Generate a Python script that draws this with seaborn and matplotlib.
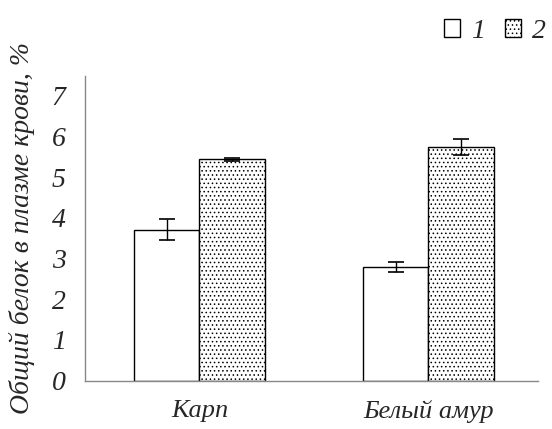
import matplotlib
matplotlib.use("Agg")
import matplotlib.pyplot as plt
import pandas as pd
import seaborn as sns
from matplotlib.patches import Patch

# values
fish = ["Карп", "Белый амур"]
series = ["1", "2"]
values_1 = [3.71, 2.80]
values_2 = [5.44, 5.75]
err_1 = [0.26, 0.12]
err_2 = [0.03, 0.20]
y_ticks = [0, 1, 2, 3, 4, 5, 6, 7]

df = pd.DataFrame({
    "fish": fish * 2,
    "series": [series[0]] * 2 + [series[1]] * 2,
    "value": values_1 + values_2,
    "err": err_1 + err_2,
})

sns.set_style("white")
plt.rcParams["font.family"] = ["Liberation Serif", "DejaVu Serif"]
plt.rcParams["hatch.color"] = "#555555"
plt.rcParams["hatch.linewidth"] = 0.6

fig = plt.figure(figsize=(5.52, 4.29), dpi=100)
ax = fig.add_axes([0.154, 0.113, 0.821, 0.711])

sns.barplot(data=df, x="fish", y="value", hue="series", order=fish,
            hue_order=series, palette=["white", "white"], errorbar=None,
            width=0.57, edgecolor="black", linewidth=1.0, ax=ax, legend=False)

# hatch the second series, add error bars on each bar
bars = [p for p in ax.patches if p.get_height() > 0]
for i, bar in enumerate(bars):
    s = i // len(fish)
    k = i % len(fish)
    if s == 1:
        bar.set_hatch("....")
    cx = bar.get_x() + bar.get_width() / 2
    e = (err_1 if s == 0 else err_2)[k]
    ax.errorbar(cx, bar.get_height(), yerr=e, color="black", capsize=6,
                elinewidth=1.0, capthick=1.2)

ax.set_xlim(-0.5, 1.48)
ax.set_ylim(0, 7.5)
ax.set_yticks(y_ticks)
ax.set_yticklabels([str(t) for t in y_ticks], fontsize=20, style="italic")
ax.set_xticks(range(len(fish)))
ax.set_xticklabels(fish, fontsize=19, style="italic")
ax.tick_params(axis="y", length=0, pad=14)
ax.tick_params(axis="x", length=0, pad=14)
ax.set_xlabel("")
ax.set_ylabel("Общий белок в плазме крови, %", fontsize=20, style="italic",
              labelpad=12)

for side in ["top", "right"]:
    ax.spines[side].set_visible(False)
for side in ["left", "bottom"]:
    ax.spines[side].set_color("#888888")
    ax.spines[side].set_linewidth(1.0)

# legend at top right
handles = [Patch(facecolor="white", edgecolor="black", label="1"),
           Patch(facecolor="white", edgecolor="black", hatch="....", label="2")]
fig.legend(handles=handles, loc="upper right", bbox_to_anchor=(1.035, 1.015),
           ncol=2, frameon=False, handlelength=0.6, handleheight=0.6,
           handletextpad=0.4, columnspacing=0.7,
           prop={"size": 20, "style": "italic", "family": "Liberation Serif"})

fig.savefig("out.png", dpi=100)
